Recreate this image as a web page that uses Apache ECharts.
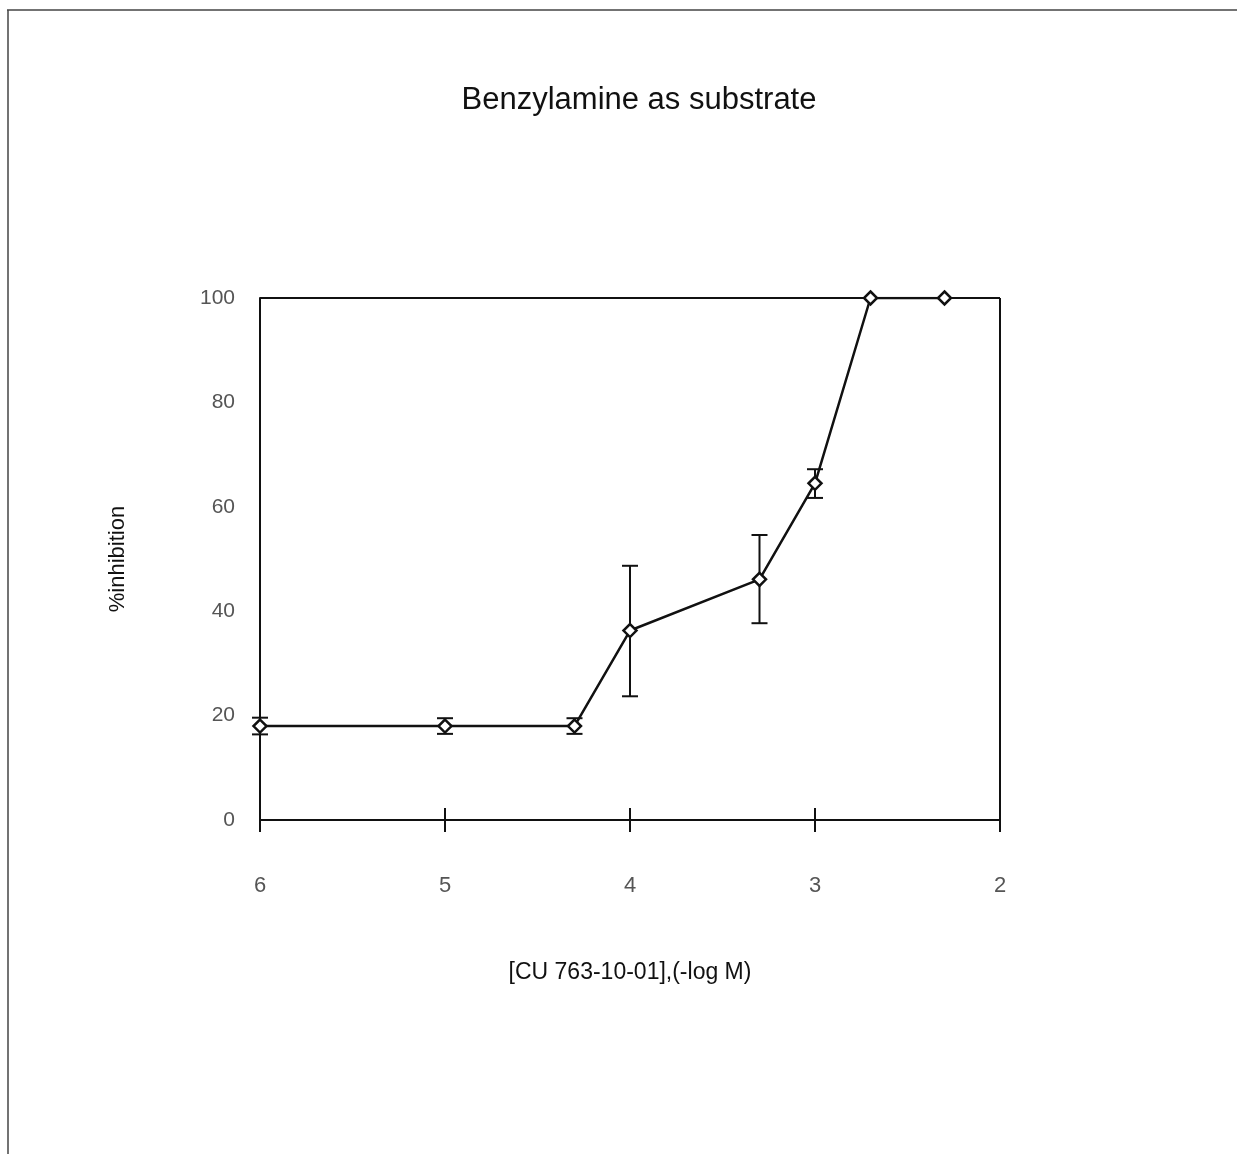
<!DOCTYPE html>
<html>
<head>
<meta charset="utf-8">
<script src="https://cdn.jsdelivr.net/npm/echarts@6/dist/echarts.min.js"></script>
<style>html,body{margin:0;padding:0;background:#fff}#c{width:1237px;height:1154px}</style>
</head>
<body>
<div id="c"></div>
<script>
var titleText = 'Benzylamine as substrate';
var xName = '[CU 763-10-01],(-log M)';
var yName = '%inhibition';
var xVals = [6, 5, 4.3, 4, 3.3, 3, 2.7, 2.3];
var yVals = [18, 18, 18, 36.3, 46.1, 64.5, 100, 100];
var errUp = [1.6, 1.5, 1.5, 12.4, 8.5, 2.7, 0, 0];
var errDown = [1.6, 1.5, 1.5, 12.6, 8.4, 2.8, 0, 0];

var lineData = xVals.map(function (x, i) { return [x, yVals[i]]; });
var errData = xVals.map(function (x, i) { return [x, yVals[i] - errDown[i], yVals[i] + errUp[i]]; })
  .filter(function (d) { return d[2] - d[1] > 0; });

var chart = echarts.init(document.getElementById('c'));
var font = 'Liberation Sans, Arial, sans-serif';
chart.setOption({
  animation: false,
  backgroundColor: '#fff',
  title: {
    text: titleText, left: 634, textAlign: 'center', top: 80,
    textStyle: { fontFamily: font, fontSize: 31, fontWeight: 'normal', color: '#111' }
  },
  graphic: [
    { type: 'line', shape: { x1: 7, y1: 10, x2: 1237, y2: 10 }, style: { stroke: '#444', lineWidth: 1.5 } },
    { type: 'line', shape: { x1: 8, y1: 10, x2: 8, y2: 1154 }, style: { stroke: '#444', lineWidth: 1.5 } },
    { type: 'line', shape: { x1: 260, y1: 298, x2: 1000, y2: 298 }, style: { stroke: '#111', lineWidth: 2 }, z: 1 },
    { type: 'line', shape: { x1: 1000, y1: 298, x2: 1000, y2: 820 }, style: { stroke: '#111', lineWidth: 2 }, z: 1 }
  ],
  grid: { left: 260, right: 237, top: 298, bottom: 334 },
  xAxis: [{
    type: 'value', inverse: true, min: 2, max: 6, interval: 1,
    name: xName, nameLocation: 'middle', nameGap: 141,
    nameTextStyle: { fontFamily: font, fontSize: 23, color: '#111' },
    axisLine: { lineStyle: { color: '#111', width: 2 } },
    axisTick: { show: true, length: 12, lineStyle: { color: '#111', width: 2 } },
    axisLabel: { margin: 55, fontFamily: font, fontSize: 22, color: '#555' },
    splitLine: { show: false }
  }, {
    type: 'value', inverse: true, min: 2, max: 6, interval: 1, position: 'bottom',
    axisLine: { show: false },
    axisTick: { show: true, inside: true, length: 12, lineStyle: { color: '#111', width: 2 } },
    axisLabel: { show: false },
    splitLine: { show: false }
  }],
  yAxis: {
    type: 'value', min: 0, max: 100, interval: 20,
    name: yName, nameLocation: 'middle', nameGap: 131, nameRotate: 90,
    nameTextStyle: { fontFamily: font, fontSize: 22, color: '#111' },
    axisLine: { show: true, lineStyle: { color: '#111', width: 2 } },
    axisTick: { show: false },
    axisLabel: { margin: 25, fontFamily: font, fontSize: 21, color: '#555' },
    splitLine: { show: false }
  },
  series: [{
    type: 'custom',
    data: errData,
    z: 3,
    renderItem: function (params, api) {
      var x = api.value(0);
      var lo = api.coord([x, api.value(1)]);
      var hi = api.coord([x, api.value(2)]);
      var w = 8;
      var st = { stroke: '#111', lineWidth: 2, fill: null };
      return {
        type: 'group',
        children: [
          { type: 'line', shape: { x1: lo[0], y1: lo[1], x2: hi[0], y2: hi[1] }, style: st },
          { type: 'line', shape: { x1: lo[0] - w, y1: lo[1], x2: lo[0] + w, y2: lo[1] }, style: st },
          { type: 'line', shape: { x1: hi[0] - w, y1: hi[1], x2: hi[0] + w, y2: hi[1] }, style: st }
        ]
      };
    }
  }, {
    type: 'line',
    data: lineData,
    z: 4,
    symbol: 'diamond',
    symbolSize: 13,
    lineStyle: { color: '#111', width: 2.5 },
    itemStyle: { color: '#fff', borderColor: '#111', borderWidth: 2.5 }
  }]
});
</script>
</body>
</html>
